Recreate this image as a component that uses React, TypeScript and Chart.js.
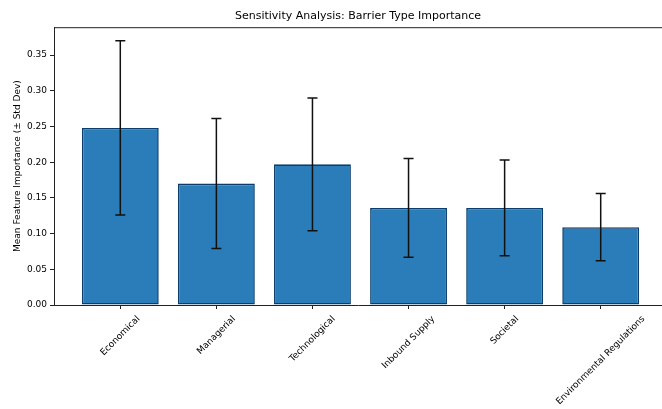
import React, { useEffect, useRef } from "react";
import { Chart, registerables } from "chart.js";

Chart.register(...registerables);

const categories = [
  "Economical",
  "Managerial",
  "Technological",
  "Inbound Supply",
  "Societal",
  "Environmental Regulations",
];
const meanImportance = [0.248, 0.17, 0.197, 0.136, 0.136, 0.109];
const stdDev = [0.122, 0.091, 0.093, 0.069, 0.067, 0.047];
const yTickValues = [0, 0.05, 0.1, 0.15, 0.2, 0.25, 0.3, 0.35];
const xMin = -0.69;
const xMax = 5.69;
const yMax = 0.389;

const FONT = "'DejaVu Sans', sans-serif";
const CANVAS_W = 662;
const PLOT_RIGHT_EXTRA = 5; // plot area continues past the visible edge

const spinesPlugin = {
  id: "spines",
  afterDatasetsDraw(chart: any) {
    const { ctx, chartArea } = chart;
    ctx.save();
    ctx.strokeStyle = "#222";
    ctx.lineWidth = 1;
    ctx.beginPath();
    ctx.moveTo(chartArea.left, chartArea.top + 0.5);
    ctx.lineTo(CANVAS_W, chartArea.top + 0.5);
    ctx.moveTo(chartArea.right, chartArea.bottom + 0.5);
    ctx.lineTo(CANVAS_W, chartArea.bottom + 0.5);
    ctx.stroke();
    ctx.restore();
  },
};

const errorBarPlugin = {
  id: "errorBars",
  afterDatasetsDraw(chart: any) {
    const { ctx } = chart;
    const yScale = chart.scales.y;
    const meta = chart.getDatasetMeta(0);
    ctx.save();
    ctx.strokeStyle = "#111";
    ctx.lineWidth = 1.5;
    meta.data.forEach((bar: any, i: number) => {
      const x = bar.x;
      const yTop = yScale.getPixelForValue(meanImportance[i] + stdDev[i]);
      const yBot = yScale.getPixelForValue(meanImportance[i] - stdDev[i]);
      ctx.beginPath();
      ctx.moveTo(x, yTop);
      ctx.lineTo(x, yBot);
      ctx.moveTo(x - 5, yTop);
      ctx.lineTo(x + 5, yTop);
      ctx.moveTo(x - 5, yBot);
      ctx.lineTo(x + 5, yBot);
      ctx.stroke();
    });
    ctx.restore();
  },
};

const xLabelPlugin = {
  id: "xLabels",
  afterDraw(chart: any) {
    const { ctx, chartArea } = chart;
    const xScale = chart.scales.x;
    ctx.save();
    ctx.font = `9px ${FONT}`;
    ctx.fillStyle = "#000";
    ctx.textAlign = "center";
    ctx.textBaseline = "middle";
    const h = 10;
    categories.forEach((label, i) => {
      const x = xScale.getPixelForValue(i);
      const w = ctx.measureText(label).width;
      const cy = chartArea.bottom + 9 + (w + h) / (2 * Math.SQRT2);
      ctx.save();
      ctx.translate(x, cy);
      ctx.rotate(-Math.PI / 4);
      ctx.fillText(label, 0, 0);
      ctx.restore();
    });
    ctx.restore();
  },
};

export default function App() {
  const canvasRef = useRef<HTMLCanvasElement | null>(null);

  useEffect(() => {
    if (!canvasRef.current) return;
    Chart.defaults.font.family = FONT;
    const chart = new Chart(canvasRef.current, {
      type: "bar",
      data: {
        datasets: [
          {
            label: "Mean Feature Importance",
            data: meanImportance.map((m, i) => ({ x: i, y: m })),
            backgroundColor: "#2a7db9",
            borderColor: "#0c3d6b",
            borderWidth: 1.6,
            borderSkipped: false,
            categoryPercentage: 1,
            barPercentage: 0.8,
          } as any,
        ],
      },
      options: {
        animation: false,
        responsive: false,
        devicePixelRatio: 1,
        layout: { padding: { left: 0, right: 0, top: 0, bottom: 0 } },
        plugins: {
          legend: { display: false },
          tooltip: { enabled: false },
          title: {
            display: true,
            text: "Sensitivity Analysis: Barrier Type Importance",
            fullSize: false,
            color: "#000",
            font: { size: 11, weight: "normal", family: FONT },
            padding: { top: 10, bottom: 4 },
          },
        },
        scales: {
          x: {
            type: "linear",
            min: xMin,
            max: xMax,
            offset: false,
            afterBuildTicks: (axis: any) => {
              axis.ticks = categories.map((_, i) => ({ value: i }));
            },
            afterFit: (axis: any) => {
              axis.height = 104;
            },
            ticks: { display: false },
            grid: {
              offset: false,
              drawOnChartArea: false,
              drawTicks: true,
              tickLength: 4,
              color: "#222",
            },
            border: { display: true, color: "#222", width: 1 },
          },
          y: {
            type: "linear",
            min: 0,
            max: yMax,
            afterBuildTicks: (axis: any) => {
              axis.ticks = yTickValues.map((v) => ({ value: v }));
            },
            afterFit: (axis: any) => {
              axis.width = 54;
            },
            ticks: {
              color: "#000",
              font: { size: 9, family: FONT },
              padding: 3,
              callback: (v: any) => Number(v).toFixed(2),
            },
            grid: {
              drawOnChartArea: false,
              drawTicks: true,
              tickLength: 4,
              color: "#222",
            },
            border: { display: true, color: "#222", width: 1 },
            title: {
              display: true,
              text: "Mean Feature Importance (± Std Dev)",
              color: "#000",
              font: { size: 9, family: FONT },
              padding: { top: 12, bottom: 0 },
            },
          },
        },
      },
      plugins: [
        {
          id: "extendPlot",
          afterLayout(chart: any) {
            // Let the plot area run slightly past the visible edge, as in the reference crop.
            const ca = chart.chartArea;
            ca.right = CANVAS_W + PLOT_RIGHT_EXTRA;
            ca.width = ca.right - ca.left;
            const x = chart.scales.x;
            x.right = ca.right;
            x.width = ca.right - x.left;
            x.configure();
          },
        },
        spinesPlugin,
        errorBarPlugin,
        xLabelPlugin,
      ],
    });
    return () => chart.destroy();
  }, []);

  return (
    <div
      style={{
        position: "fixed",
        left: 0,
        top: 0,
        width: 662,
        height: 409,
        overflow: "hidden",
        background: "#fff",
      }}
    >
      <canvas
        ref={canvasRef}
        width={CANVAS_W}
        height={409}
        style={{ width: CANVAS_W, height: 409, display: "block" }}
      />
    </div>
  );
}
